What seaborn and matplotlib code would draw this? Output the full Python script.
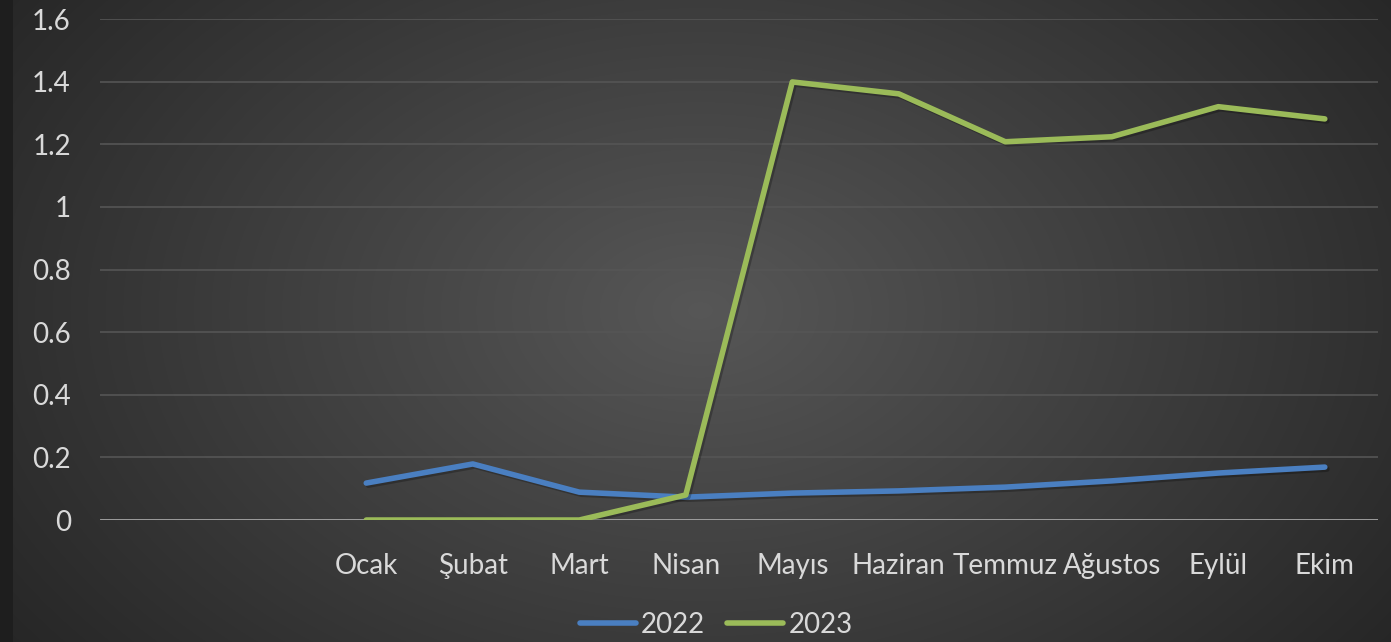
import matplotlib
matplotlib.use("Agg")
import matplotlib.pyplot as plt
import matplotlib.patheffects as pe
from matplotlib.lines import Line2D
import numpy as np
import pandas as pd
import seaborn as sns

months = ["Ocak", "Şubat", "Mart", "Nisan", "Mayıs", "Haziran",
          "Temmuz", "Ağustos", "Eylül", "Ekim"]
values_2022 = [0.118, 0.179, 0.089, 0.073, 0.086, 0.093, 0.105, 0.125, 0.150, 0.169]
values_2023 = [0.0, 0.0, 0.0, 0.080, 1.399, 1.361, 1.208, 1.224, 1.320, 1.281]
years = ["2022", "2023"]
colors = {"2022": "#4a7fc1", "2023": "#9bbb59"}
y_ticks = [0, 0.2, 0.4, 0.6, 0.8, 1, 1.2, 1.4, 1.6]

df = pd.DataFrame({
    "pos": list(range(len(months))) * 2,
    "value": values_2022 + values_2023,
    "year": ["2022"] * len(months) + ["2023"] * len(months),
})

sns.set_style("white")
plt.rcParams["font.family"] = ["Lato", "DejaVu Sans"]

fig = plt.figure(figsize=(13.91, 6.42), dpi=100)

# radial dark gradient background
bg = fig.add_axes([0, 0, 1, 1], zorder=0)
h, w = 642, 1391
yy, xx = np.mgrid[0:h, 0:w]
r = np.sqrt(((xx - 700) / 900.0) ** 2 + ((yy - 310) / 600.0) ** 2)
shade = np.clip(0.34 - 0.2 * r, 0.14, 0.34)
img = np.dstack([shade, shade, shade])
img[:, :13] = 0.12
bg.imshow(img, aspect="auto", extent=[0, 1, 0, 1])
bg.set_axis_off()

ax = fig.add_axes([0.0719, 0.19, 0.9188, 0.7804], zorder=1)
ax.patch.set_alpha(0)

for yv in y_ticks[1:]:
    ax.axhline(yv, color="#555555", lw=1.2, zorder=1)
ax.axhline(0, color="#a6a6a6", lw=2, zorder=2)

sns.lineplot(data=df, x="pos", y="value", hue="year", palette=colors,
             linewidth=4, ax=ax, legend=False, zorder=3)
for line in ax.lines[-2:]:
    line.set_solid_capstyle("round")
    line.set_solid_joinstyle("round")
    line.set_path_effects([pe.SimpleLineShadow(offset=(1.5, -1.5), shadow_color="black", alpha=0.25),
                           pe.Normal()])

ax.set_xlim(-2.5, len(months) - 0.5)
ax.set_ylim(0, 1.6)
ax.set_xticks(range(len(months)))
ax.set_xticklabels(months)
ax.set_yticks(y_ticks)
ax.set_yticklabels([f"{v:g}" for v in y_ticks])
ax.tick_params(axis="both", length=0, labelsize=20, colors="#d9d9d9")
ax.tick_params(axis="x", pad=24)
ax.tick_params(axis="y", pad=21)
ax.set_xlabel("")
ax.set_ylabel("")
for s in ax.spines.values():
    s.set_visible(False)

handles = [Line2D([0], [0], color=colors[y], lw=4, solid_capstyle="round") for y in years]
leg = fig.legend(handles, years, loc="center", bbox_to_anchor=(0.515, 0.027), ncol=2,
                 frameon=False, fontsize=20, handlelength=2.0, handletextpad=0.2,
                 columnspacing=0.8, labelcolor="#d9d9d9")

fig.savefig("out.png", dpi=100)
